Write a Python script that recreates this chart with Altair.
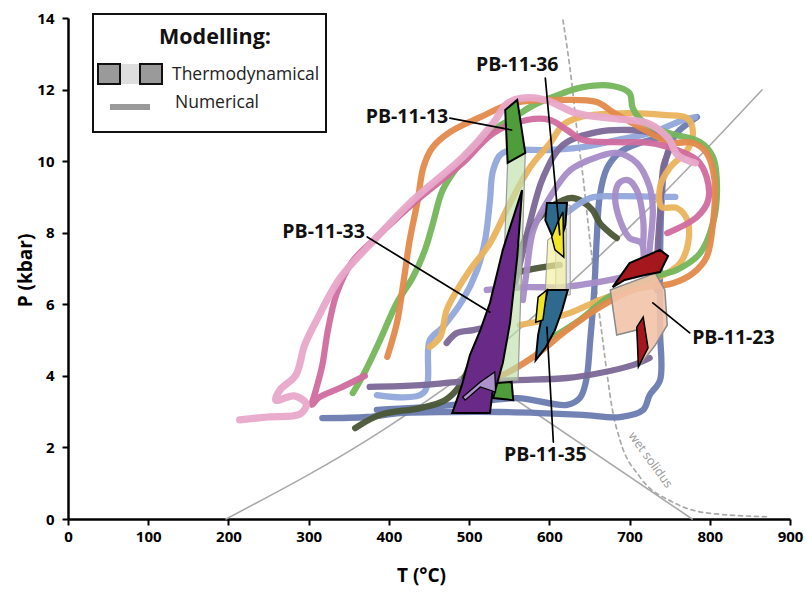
import altair as alt
import pandas as pd

# ---------------- data (T in °C, P in kbar) ----------------
geotherm_T = [197, 393, 522, 626, 709, 865]
geotherm_P = [0.0, 2.49, 4.53, 6.59, 8.35, 11.99]
decomp_T = [530, 778]
decomp_P = [3.76, 0.0]
solidus_T = [617, 628, 634, 642, 651, 659, 667, 673, 678, 688, 713, 754, 796, 875]
solidus_P = [13.94, 12.18, 10.95, 9.56, 7.71, 6.31, 4.92, 3.88, 3.13, 2.21, 1.17, 0.47, 0.17, 0.06]

palepink_T = [214, 249, 289, 297, 282, 259, 264, 284, 295, 310, 339, 376, 430, 492, 530, 547, 566, 595, 634, 676, 722, 748, 760, 782]
palepink_P = [2.77, 2.85, 2.93, 3.21, 3.44, 3.32, 3.60, 4.02, 4.86, 5.56, 6.73, 7.66, 8.91, 10.11, 11.06, 11.60, 11.76, 11.71, 11.34, 11.20, 11.06, 10.65, 10.17, 9.95]

darkpink_T = [370, 339, 312, 304, 309, 317, 324, 335, 354, 385, 435, 492, 530, 572, 601, 622, 642, 684, 725, 759, 784, 796, 798, 784, 747]
darkpink_P = [4.00, 3.66, 3.38, 3.19, 3.60, 4.30, 5.28, 6.31, 7.18, 7.88, 8.91, 9.95, 10.78, 11.15, 11.15, 10.87, 10.59, 10.53, 10.51, 10.31, 10.03, 9.56, 8.91, 8.44, 7.99]

orange_T = [398, 410, 418, 426, 436, 443, 454, 476, 514, 555, 617, 659, 679, 704, 750, 779, 796, 806, 804, 796, 779, 754, 704, 663, 622, 580, 547, 535]
orange_P = [4.53, 5.48, 6.59, 7.80, 8.91, 9.83, 10.37, 10.81, 11.23, 11.62, 11.71, 11.65, 11.37, 11.06, 10.53, 10.51, 10.23, 9.47, 8.27, 7.32, 6.87, 6.59, 6.40, 5.92, 5.28, 4.53, 4.08, 3.97]

green_T = [355, 370, 389, 410, 430, 445, 455, 467, 489, 514, 535, 557, 576, 617, 642, 679, 700, 704, 719, 750, 788, 804, 809, 804, 788, 759, 738, 700, 672, 638, 605]
green_P = [3.52, 4.11, 5.00, 6.04, 6.76, 7.52, 8.27, 9.19, 9.95, 10.59, 10.95, 11.23, 11.51, 11.90, 12.07, 12.10, 11.90, 11.48, 11.06, 10.78, 10.53, 10.11, 9.19, 8.27, 7.43, 6.96, 6.82, 6.48, 6.17, 5.56, 5.09]

yelorange_T = [451, 464, 472, 485, 501, 526, 551, 576, 601, 617, 638, 700, 742, 772, 779, 772, 750, 738, 740, 759, 772, 773, 763, 747, 713, 663, 626, 595, 563]
yelorange_P = [4.81, 5.09, 5.84, 6.40, 6.96, 7.71, 8.83, 9.83, 10.51, 11.01, 11.23, 11.34, 11.29, 11.20, 10.78, 10.31, 9.81, 9.28, 8.72, 8.69, 8.35, 7.71, 7.15, 6.87, 6.54, 6.12, 5.76, 5.56, 5.42]

lightblue_T = [385, 443, 451, 467, 492, 510, 520, 526, 530, 542, 601, 642, 684, 725, 767, 782]
lightblue_P = [3.46, 3.52, 5.00, 5.36, 6.12, 6.96, 7.80, 8.91, 9.75, 10.23, 10.31, 10.39, 10.59, 10.78, 11.15, 11.23]
lightblue2_T = [623, 651, 684, 742, 757]
lightblue2_P = [8.58, 8.97, 9.02, 9.00, 9.00]

bluegray1_T = [317, 373, 414, 476, 538, 588, 642, 688, 717, 725, 738, 738, 738, 740, 745, 757, 775, 784]
bluegray1_P = [2.82, 2.85, 2.96, 2.99, 2.99, 2.96, 2.91, 2.85, 3.05, 3.46, 3.88, 5.28, 7.24, 8.91, 10.03, 10.73, 11.09, 11.23]
bluegray2_T = [385, 467, 501, 560, 622, 638, 646, 651, 656, 659, 663, 672, 688, 713, 738]
bluegray2_P = [3.05, 3.16, 3.24, 3.38, 3.19, 3.38, 3.88, 5.00, 6.40, 7.80, 9.05, 9.81, 10.25, 10.51, 10.65]

purple1_T = [376, 439, 489, 560, 622, 663, 704, 725]
purple1_P = [3.69, 3.74, 3.83, 3.88, 3.94, 4.08, 4.30, 4.50]
purple2_T = [472, 485, 505, 520]
purple2_P = [4.92, 5.20, 5.28, 5.36]
purple3_T = [557, 566, 576, 592, 617, 659, 700, 729, 750, 742, 738, 735, 734]
purple3_P = [6.54, 7.38, 8.30, 9.53, 10.45, 10.81, 10.87, 10.78, 10.51, 9.83, 8.55, 7.52, 6.40]

lavender1_T = [567, 572, 580, 601, 626, 659, 684, 709, 725, 729, 725, 723]
lavender1_P = [6.12, 6.96, 8.07, 9.00, 9.75, 10.11, 10.23, 9.95, 9.28, 8.63, 7.52, 6.82]
lavender2_T = [717, 715, 700, 688, 682, 687, 698, 709, 717, 717]
lavender2_P = [7.01, 7.71, 7.85, 8.35, 9.00, 9.39, 9.47, 9.19, 8.35, 7.66]
lavender3_T = [522, 572, 617, 676, 692]
lavender3_P = [6.40, 6.48, 6.48, 6.68, 6.76]

olive1_T = [561, 576, 597, 617, 629, 642, 654, 663, 676, 684]
olive1_P = [7.38, 8.07, 8.63, 8.91, 8.97, 8.86, 8.63, 8.27, 7.99, 7.85]
olive2_T = [545, 585, 613]
olive2_P = [6.82, 7.01, 7.10]
olive3_T = [358, 389, 439, 470, 489, 504, 520, 538, 551]
olive3_P = [2.54, 2.91, 3.10, 3.32, 3.74, 4.44, 5.28, 6.12, 6.82]

# thermodynamic fields (polygons)
band13_T = [548, 570, 561, 538]
band13_P = [9.95, 10.23, 3.88, 3.83]
pb13_T = [545, 560, 570, 548]
pb13_P = [11.43, 11.71, 10.23, 9.95]
pb13b_T = [535, 553, 555, 530]
pb13b_P = [3.80, 3.83, 3.32, 3.38]
pb33_T = [566, 560, 551, 542, 535, 529, 526, 479, 491, 501, 514, 526, 542]
pb33_P = [9.19, 7.32, 5.48, 4.36, 3.80, 3.52, 2.96, 2.96, 3.74, 4.58, 5.28, 6.04, 7.52]
pb33b_T = [492, 514, 532, 533, 514, 495]
pb33b_P = [3.41, 3.83, 4.11, 3.55, 3.69, 3.32]
greybox_T = [608, 626, 626, 608]
greybox_P = [8.77, 8.77, 6.26, 6.26]
band36_T = [598, 621, 621, 595]
band36_P = [7.80, 8.13, 6.40, 6.34]
pb36_T = [597, 622, 620, 613, 603, 595]
pb36_P = [8.83, 8.83, 8.21, 7.71, 7.94, 8.35]
pb36y_T = [610, 617, 618, 607, 603]
pb36y_P = [8.27, 8.58, 7.32, 7.52, 7.88]
pb35_T = [598, 623, 616, 607, 595, 583, 586, 591]
pb35_P = [6.40, 6.40, 5.84, 5.28, 4.78, 4.44, 5.14, 5.70]
pb35y_T = [586, 597, 592, 583]
pb35y_P = [6.20, 6.40, 5.56, 5.50]
pb23p_T = [676, 732, 744, 747, 732, 713, 709, 684]
pb23p_P = [6.40, 6.87, 6.40, 5.42, 4.86, 4.30, 5.28, 5.14]
pb23r_T = [679, 700, 738, 748, 738, 719, 694]
pb23r_P = [6.48, 7.15, 7.52, 7.35, 6.90, 6.82, 6.68]
pb23s_T = [709, 717, 723, 711]
pb23s_P = [5.36, 5.64, 4.78, 4.25]

# sample labels and leader lines
labels = ["PB-11-13", "PB-11-36", "PB-11-33", "PB-11-35", "PB-11-23"]
label_T = [474, 560, 370, 595, 778]
label_P = [11.23, 12.68, 8.02, 1.79, 5.06]
label_align = ["right", "center", "right", "center", "left"]
leader_T = [[476, 553], [595, 613], [373, 526], [605, 597], [775, 729]]
leader_P = [[11.20, 10.87], [12.32, 7.94], [7.88, 5.78], [2.15, 5.36], [5.20, 6.04]]

FONT = "Open Sans"

# ---------------- encodings ----------------
X = alt.X("T:Q", scale=alt.Scale(domain=[0, 900], nice=False, zero=False),
          axis=alt.Axis(values=list(range(0, 901, 100)), title="T (°C)", grid=False,
                        domainColor="black", domainWidth=2.5, tickColor="black", tickWidth=2,
                        tickSize=6, labelFont=FONT, labelFontSize=15, labelFontWeight="bold",
                        labelColor="black", labelPadding=4, labelFlush=False, labelOverlap=False,
                        titleFont=FONT, titleFontSize=19,
                        titleFontWeight="bold", titleColor="black", titleX=353, titleY=47,
                        titleBaseline="top"))
Y = alt.Y("P:Q", scale=alt.Scale(domain=[0, 14], nice=False, zero=False),
          axis=alt.Axis(values=list(range(0, 15, 2)), title="P (kbar)", grid=False,
                        domainColor="black", domainWidth=2.5, tickColor="black", tickWidth=2,
                        tickSize=6, labelFont=FONT, labelFontSize=15, labelFontWeight="bold",
                        labelColor="black", labelPadding=8, labelFlush=False, labelOverlap=False,
                        titleFont=FONT, titleFontSize=19,
                        titleFontWeight="bold", titleColor="black", titleX=-43, titleY=252,
                        titleAngle=-90, titleBaseline="middle"))


def frame(T, P):
    return pd.DataFrame({"T": T, "P": P, "i": list(range(len(T)))})


def curve(T, P, color, width=6.3, interp="catmull-rom", dash=None, opacity=0.95):
    kw = dict(stroke=color, strokeWidth=width, interpolate=interp, strokeCap="round",
              strokeJoin="round", opacity=opacity)
    if dash is not None:
        kw["strokeDash"] = dash
    return alt.Chart(frame(T, P)).mark_line(**kw).encode(x=X, y=Y, order="i:Q")


def polygon(T, P, fill, stroke="black", sw=2.0, fo=1.0, so=1.0):
    return alt.Chart(frame(T, P)).mark_line(
        interpolate="linear-closed", filled=True, fill=fill, fillOpacity=fo,
        stroke=stroke, strokeWidth=sw, strokeOpacity=so, strokeJoin="miter"
    ).encode(x=X, y=Y, order="i:Q")


layers = [
    curve(geotherm_T, geotherm_P, "#a9a9a9", width=1.6, interp="monotone", opacity=1),
    curve(decomp_T, decomp_P, "#a9a9a9", width=1.6, interp="linear", opacity=1),
    curve(solidus_T, solidus_P, "#a9a9a9", width=1.7, interp="monotone", dash=[4, 4], opacity=1),
    curve(bluegray1_T, bluegray1_P, "#6b7bb1"),
    curve(bluegray2_T, bluegray2_P, "#6b7bb1"),
    curve(olive3_T, olive3_P, "#4a5635"),
    curve(olive1_T, olive1_P, "#4a5635"),
    curve(olive2_T, olive2_P, "#4a5635"),
    curve(lightblue_T, lightblue_P, "#91a8db"),
    curve(lightblue2_T, lightblue2_P, "#91a8db"),
    curve(purple1_T, purple1_P, "#7b6797"),
    curve(purple2_T, purple2_P, "#7b6797"),
    curve(purple3_T, purple3_P, "#7b6797"),
    curve(lavender1_T, lavender1_P, "#a68cc8"),
    curve(lavender2_T, lavender2_P, "#a68cc8"),
    curve(lavender3_T, lavender3_P, "#a68cc8"),
    curve(yelorange_T, yelorange_P, "#ebb35c"),
    curve(green_T, green_P, "#74b55b"),
    curve(orange_T, orange_P, "#e3894b"),
    curve(darkpink_T, darkpink_P, "#d06c9e"),
    curve(palepink_T, palepink_P, "#e8a8ca", width=7.2),
    # thermodynamic fields
    polygon(band13_T, band13_P, "#bfe0aa", stroke="#9a9a9a", sw=1.2, fo=0.65),
    polygon(greybox_T, greybox_P, "#c9cfdc", stroke="#9a9a9a", sw=1.0, fo=0.45),
    polygon(band36_T, band36_P, "#f4f0a2", stroke="#9a9a9a", sw=1.0, fo=0.7),
    polygon(pb13_T, pb13_P, "#4e9d3a"),
    polygon(pb13b_T, pb13b_P, "#4e9d3a"),
    polygon(pb33_T, pb33_P, "#682a86"),
    polygon(pb33b_T, pb33b_P, "#b29dd2", sw=1.2, fo=0.9),
    polygon(pb36_T, pb36_P, "#2e6a8e"),
    polygon(pb36y_T, pb36y_P, "#f0e626", sw=1.5),
    polygon(pb35_T, pb35_P, "#2e6a8e"),
    polygon(pb35y_T, pb35y_P, "#f0e626", sw=1.5),
    polygon(pb23p_T, pb23p_P, "#f2c3a8", stroke="#8a8a8a", sw=1.5, fo=0.9),
    polygon(pb23r_T, pb23r_P, "#a3171d"),
    polygon(pb23s_T, pb23s_P, "#a3171d", sw=1.5),
]

for lt, lp in zip(leader_T, leader_P):
    layers.append(curve(lt, lp, "black", width=1.7, interp="linear", opacity=1))

for name, t, p, al in zip(labels, label_T, label_P, label_align):
    layers.append(
        alt.Chart(pd.DataFrame({"T": [t], "P": [p], "lab": [name]})).mark_text(
            align=al, baseline="middle", font=FONT, fontSize=19.5, fontWeight="bold", color="#111"
        ).encode(x=X, y=Y, text="lab:N")
    )

layers.append(
    alt.Chart(pd.DataFrame({"T": [726], "P": [1.65], "lab": ["wet solidus"]})).mark_text(
        align="center", baseline="middle", font=FONT, fontSize=12.5, color="#9a9a9a", angle=54
    ).encode(x=X, y=Y, text="lab:N")
)

# ---------------- legend box ----------------
one = pd.DataFrame({"a": [0]})
layers += [
    alt.Chart(one).mark_rect(fill="white", stroke="#111", strokeWidth=2).encode(
        x=alt.value(25), x2=alt.value(258), y=alt.value(-4), y2=alt.value(114)),
    alt.Chart(one).mark_text(text="Modelling:", font=FONT, fontSize=21.5, fontWeight="bold",
                             align="center", baseline="middle", color="#111").encode(
        x=alt.value(147), y=alt.value(20)),
    alt.Chart(one).mark_rect(fill="#dedede").encode(
        x=alt.value(51), x2=alt.value(73), y=alt.value(46), y2=alt.value(66)),
    alt.Chart(one).mark_rect(fill="#9a9a9a", stroke="#111", strokeWidth=2).encode(
        x=alt.value(30), x2=alt.value(52), y=alt.value(46), y2=alt.value(66)),
    alt.Chart(one).mark_rect(fill="#9a9a9a", stroke="#111", strokeWidth=2).encode(
        x=alt.value(72), x2=alt.value(94), y=alt.value(46), y2=alt.value(66)),
    alt.Chart(one).mark_text(text="Thermodynamical", font=FONT, fontSize=17.5, align="left",
                             baseline="middle", color="#222").encode(
        x=alt.value(104), y=alt.value(57)),
    alt.Chart(one).mark_rect(fill="#9a9a9a").encode(
        x=alt.value(42), x2=alt.value(82), y=alt.value(86), y2=alt.value(92)),
    alt.Chart(one).mark_text(text="Numerical", font=FONT, fontSize=17.5, align="left",
                             baseline="middle", color="#222").encode(
        x=alt.value(107), y=alt.value(85)),
]

chart = alt.layer(*layers).properties(
    width=722, height=501,
    padding={"left": 68, "top": 18, "right": 16, "bottom": 73},
    autosize=alt.AutoSizeParams(type="none"),
).configure_view(stroke=None)

chart.save("out.html", embed_options={"renderer": "svg", "actions": False})
